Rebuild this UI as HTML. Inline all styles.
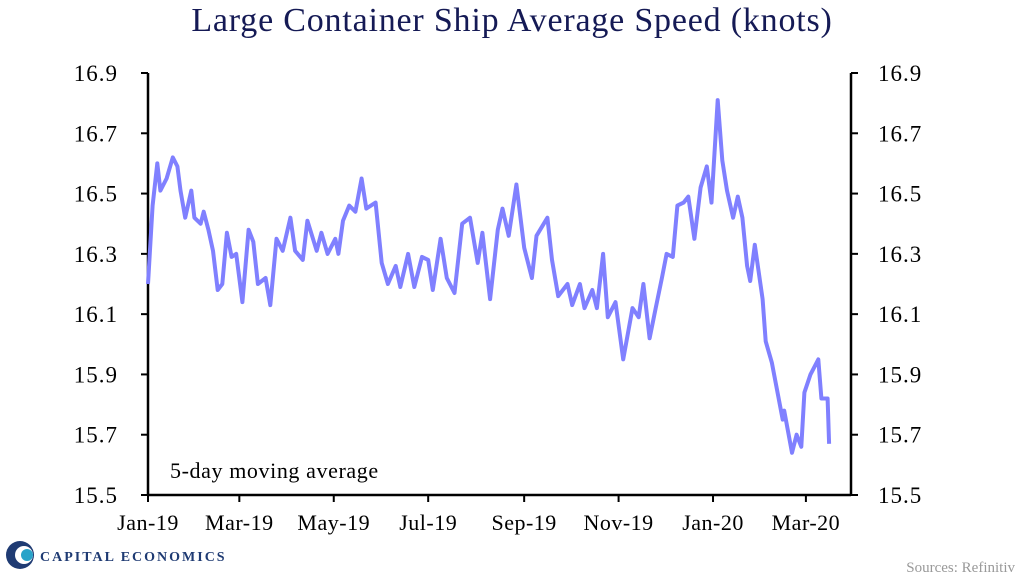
<!DOCTYPE html>
<html><head><meta charset="utf-8"><style>
body{margin:0;background:#fff;}
svg text{font-family:"Liberation Serif",serif;}
</style></head><body>
<svg width="1024" height="583" viewBox="0 0 1024 583">
<text x="512" y="31" text-anchor="middle" font-size="34" letter-spacing="0.8" fill="#151a55">Large Container Ship Average Speed (knots)</text>
<g id="axes"></g>
<path id="line" fill="none" stroke="#8080ff" stroke-width="4" stroke-linejoin="round"/>
<text x="170" y="478" font-size="22" letter-spacing="0.6" fill="#000">5-day moving average</text>
<g>
<circle cx="20" cy="555" r="14" fill="#1f3b73"/>
<circle cx="24" cy="555" r="9" fill="#fff"/>
<circle cx="27" cy="555" r="6" fill="#29a3c9"/>
<text x="40" y="561" font-family="Liberation Sans,sans-serif" font-size="14" letter-spacing="2" fill="#1f3b73" font-weight="bold">CAPITAL ECONOMICS</text>
</g>
<text x="1015" y="572" text-anchor="end" font-size="15" fill="#999">Sources: Refinitiv</text>
</svg>
<script>
const days=[0,3,6,8,12,16,19,21,24,28,30,34,36,39,42,45,48,51,54,57,61,65,68,71,76,79,83,87,92,95,100,103,109,112,116,121,123,126,130,134,138,141,147,151,155,160,163,168,172,177,181,184,189,193,198,203,208,213,216,221,226,229,233,238,243,248,251,258,261,265,271,274,279,282,287,290,294,297,302,307,313,317,320,324,328,332,335,339,342,346,349,353,357,361,364,368,371,374,378,381,384,387,389,392,397,399,403,410,411,416,419,422,424,428,433,435,439,440];
const values=[16.20,16.46,16.60,16.51,16.55,16.62,16.59,16.51,16.42,16.51,16.42,16.40,16.44,16.38,16.31,16.18,16.20,16.37,16.29,16.30,16.14,16.38,16.34,16.20,16.22,16.13,16.35,16.31,16.42,16.31,16.28,16.41,16.31,16.37,16.30,16.35,16.30,16.41,16.46,16.44,16.55,16.45,16.47,16.27,16.20,16.26,16.19,16.30,16.19,16.29,16.28,16.18,16.35,16.22,16.17,16.40,16.42,16.27,16.37,16.15,16.38,16.45,16.36,16.53,16.32,16.22,16.36,16.42,16.28,16.16,16.20,16.13,16.20,16.12,16.18,16.12,16.30,16.09,16.14,15.95,16.12,16.09,16.20,16.02,16.12,16.22,16.30,16.29,16.46,16.47,16.49,16.35,16.52,16.59,16.47,16.81,16.61,16.51,16.42,16.49,16.42,16.26,16.21,16.33,16.15,16.01,15.94,15.75,15.78,15.64,15.70,15.66,15.84,15.90,15.95,15.82,15.82,15.67];
const yTicks=["15.5","15.7","15.9","16.1","16.3","16.5","16.7","16.9"];
const xLabels=["Jan-19","Mar-19","May-19","Jul-19","Sep-19","Nov-19","Jan-20","Mar-20"];
const xLabelDays=[0,59,120,181,243,304,365,425];
const L=148,R=851,T=73,B=495,yMin=15.5,yMax=16.9,dayPx=1.548;
const X=d=>L+d*dayPx, Y=v=>B-(v-yMin)/(yMax-yMin)*(B-T);
const ns="http://www.w3.org/2000/svg", g=document.getElementById('axes');
function el(t,a){const e=document.createElementNS(ns,t);for(const k in a)e.setAttribute(k,a[k]);g.appendChild(e);return e;}
let e=el('line',{x1:L,y1:T,x2:L,y2:B,stroke:'#000','stroke-width':2.5});


e=el('line',{x1:R,y1:T,x2:R,y2:B,stroke:'#000','stroke-width':2.5});


e=el('line',{x1:L,y1:B,x2:R,y2:B,stroke:'#000','stroke-width':2.5});


yTicks.forEach(t=>{const y=Y(+t);
el('line',{x1:L-7,y1:y,x2:L,y2:y,stroke:'#000','stroke-width':2});
el('line',{x1:R,y1:y,x2:R+7,y2:y,stroke:'#000','stroke-width':2});
let a=el('text',{x:L-30,y:y+8,'text-anchor':'end','font-size':23,'letter-spacing':1});a.textContent=t;


let b=el('text',{x:R+27,y:y+8,'font-size':23,'letter-spacing':1});b.textContent=t;

});
xLabels.forEach((t,i)=>{const x=X(xLabelDays[i]);
el('line',{x1:x,y1:B,x2:x,y2:B+7,stroke:'#000','stroke-width':2});
let a=el('text',{x:x,y:530,'text-anchor':'middle','font-size':22,'letter-spacing':0.5});a.textContent=t;

});
document.getElementById('line').setAttribute('d',days.map((d,i)=>(i?'L':'M')+X(d).toFixed(1)+','+Y(values[i]).toFixed(1)).join(''));
</script>
</body></html>
